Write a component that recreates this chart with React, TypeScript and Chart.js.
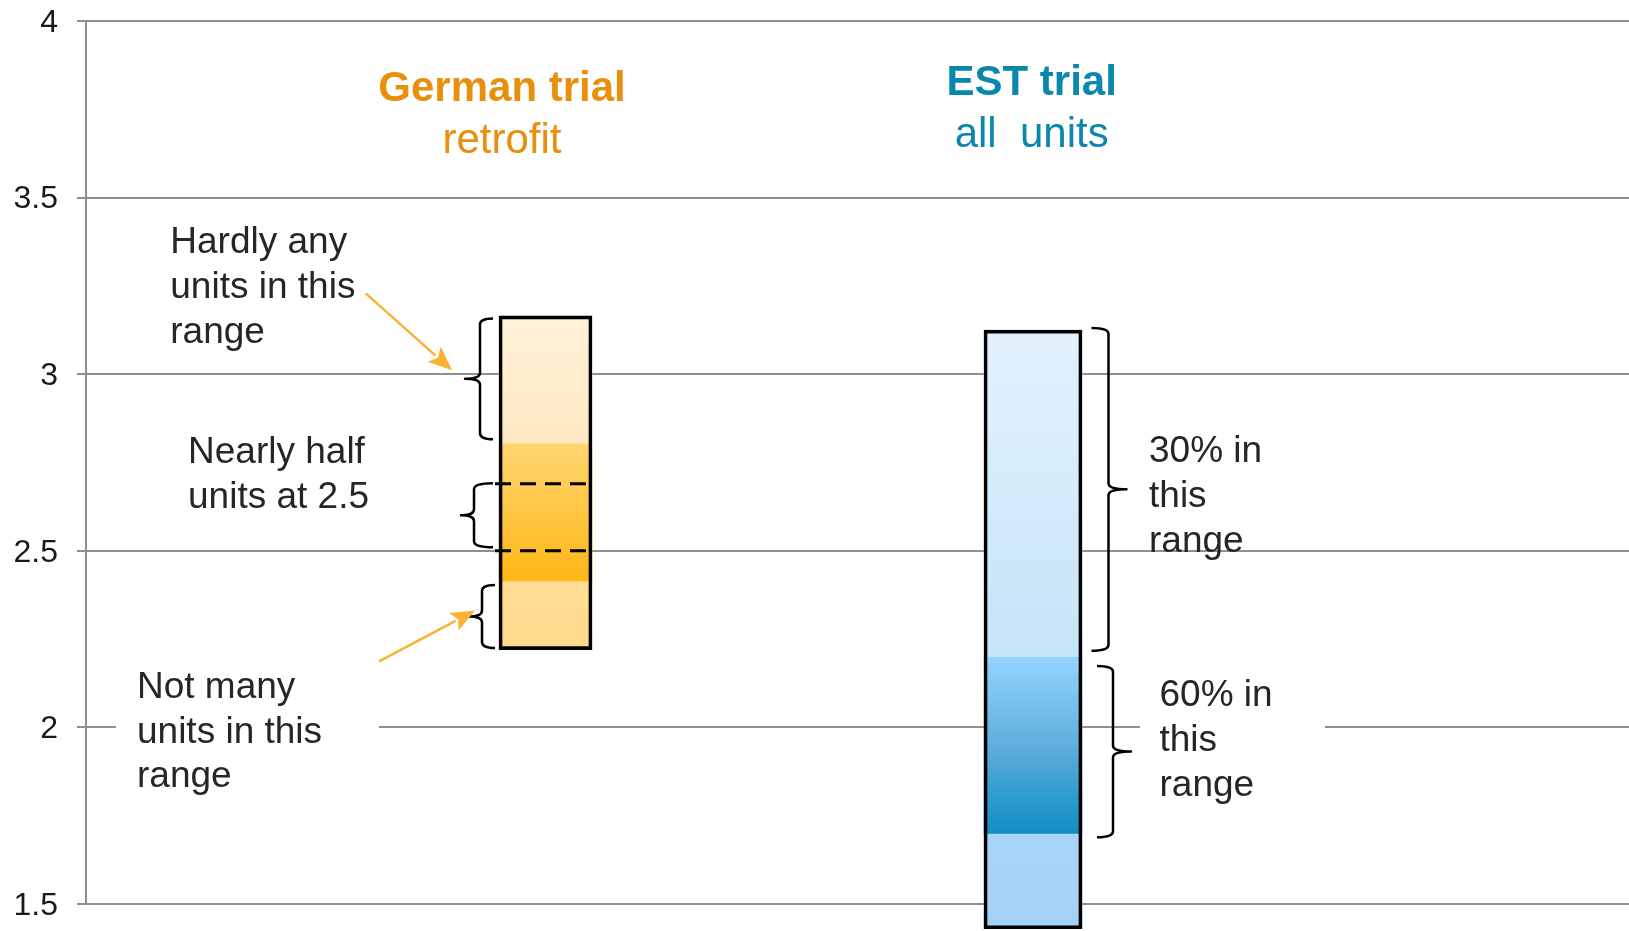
import React, { useEffect, useRef } from 'react';
import { Chart, registerables } from 'chart.js';

Chart.register(...registerables);

// ---------- data ----------
const trials = ['German trial', 'EST trial'];
const trialSubtitles = ['retrofit', 'all  units'];
const trialX = [0, 1];

// segment boundaries, top to bottom (y-axis units)
const germanBounds = [3.165, 2.805, 2.415, 2.22];
const estBounds = [3.125, 2.2, 1.7, 1.43];

const yTickValues = [1.5, 2, 2.5, 3, 3.5, 4];
const yTickLabels = ['1.5', '2', '2.5', '3', '3.5', '4'];

// brace ranges [top, bottom]
const germanBraces = [[3.158, 2.816], [2.691, 2.51], [2.403, 2.225]];
const estBraces = [[3.131, 2.217], [2.174, 1.689]];
// dashed marker lines on the German bar
const germanDashes = [2.69, 2.5];

// annotations
const annotationTexts = [
  ['Hardly any', 'units in this', 'range'],
  ['Nearly half', 'units at 2.5'],
  ['Not many', 'units in this', 'range'],
  ['30% in', 'this', 'range'],
  ['60% in', 'this', 'range'],
];
const annotationX = [-0.7697, -0.7333, -0.838, 1.238, 1.2595];
const annotationY = [3.371, 2.777, 2.112, 2.78, 2.089];

const arrowFrom = [[-0.3688, 3.229], [-0.3415, 2.187]];
const arrowTo = [[-0.1918, 3.011], [-0.1446, 2.331]];

const titleX = [-0.0892, 0.9973];
const titleY = [3.806, 3.823];
const subtitleY = [3.659, 3.676];

// ---------- styles ----------
const W = 1629;
const H = 931;
const FONT = "'Liberation Sans', Arial, Helvetica, sans-serif";
const TEXT_COLOR = '#262626';
const GRID_COLOR = '#8f8f8f';
const TITLE_COLORS = ['#E8900C', '#0A87AD'];
const ARROW_COLOR = '#F9B233';
const LINE_H = 44.7;

const germanFills = [
  ['#FFF3D9', '#FEE8C1'],
  ['#FFD670', '#FFB716'],
  ['#FEDD94', '#FED98B'],
];
const estFills = [
  ['#E3F2FD', '#C6E4F8'],
  ['#93D4FF', '#5FAEDD', '#0E8EC3'],
  ['#A8D5F7', '#A4D2F6'],
];
const barThickness = [93, 98];
// brace geometry relative to bar centre: [arm, vertical, tip]
const germanBraceGeom = [[-52.5, -65.5, -80.5], [-52.5, -71.5, -84.5], [-50.5, -63.5, -76.5]];
const estBraceGeom = [[58.5, 75.5, 93.5], [64, 80, 98]];
// white boxes behind some annotations [left, right] offsets in px, or null
const annotationBoxes: (number[] | null)[] = [null, null, [-21, 242], null, [-19.5, 165.5]];

function gradientFill(c: any, stops: string[]) {
  const chart = c.chart;
  const raw = c.raw;
  if (!raw || !chart.chartArea || !chart.scales.y) return stops[0];
  const ys = chart.scales.y;
  const top = ys.getPixelForValue(raw.y[1]);
  const bot = ys.getPixelForValue(raw.y[0]);
  if (!isFinite(top) || !isFinite(bot) || top === bot) return stops[0];
  const g = chart.ctx.createLinearGradient(0, top, 0, bot);
  stops.forEach((s, i) => g.addColorStop(i / (stops.length - 1), s));
  return g;
}

function buildDatasets(name: string, x: number, bounds: number[], thickness: number, fills: string[][]) {
  const sets: any[] = [];
  for (let i = 0; i < bounds.length - 1; i++) {
    const stops = fills[i];
    sets.push({
      label: `${name} ${i}`,
      data: [{ x, y: [bounds[i + 1], bounds[i]] }],
      backgroundColor: (c: any) => gradientFill(c, stops),
      borderWidth: 0,
      borderSkipped: false,
      barThickness: thickness,
      maxBarThickness: thickness,
      grouped: false,
      clip: false,
      order: 2,
    });
  }
  sets.push({
    label: `${name} outline`,
    data: [{ x, y: [bounds[bounds.length - 1], bounds[0]] }],
    backgroundColor: 'rgba(0,0,0,0)',
    borderColor: '#000',
    borderWidth: 3,
    borderSkipped: false,
    barThickness: thickness,
    maxBarThickness: thickness,
    grouped: false,
    clip: false,
    order: 1,
  });
  return sets;
}

function drawBrace(ctx: CanvasRenderingContext2D, xArm: number, xV: number, xTip: number, yTop: number, yBot: number) {
  const yMid = (yTop + yBot) / 2;
  const r = Math.min(6, (yBot - yTop) / 5);
  ctx.beginPath();
  ctx.moveTo(xArm, yTop);
  ctx.quadraticCurveTo(xV, yTop, xV, yTop + r);
  ctx.lineTo(xV, yMid - r);
  ctx.quadraticCurveTo(xV, yMid, xTip, yMid);
  ctx.quadraticCurveTo(xV, yMid, xV, yMid + r);
  ctx.lineTo(xV, yBot - r);
  ctx.quadraticCurveTo(xV, yBot, xArm, yBot);
  ctx.stroke();
}

function drawArrow(ctx: CanvasRenderingContext2D, x0: number, y0: number, x1: number, y1: number) {
  const ang = Math.atan2(y1 - y0, x1 - x0);
  const L = 24;
  const hw = 10;
  const bx = x1 - L * Math.cos(ang);
  const by = y1 - L * Math.sin(ang);
  ctx.beginPath();
  ctx.moveTo(x0, y0);
  ctx.lineTo(bx + 2 * Math.cos(ang), by + 2 * Math.sin(ang));
  ctx.stroke();
  ctx.beginPath();
  ctx.moveTo(x1, y1);
  ctx.lineTo(bx + hw * Math.sin(ang), by - hw * Math.cos(ang));
  ctx.lineTo(bx + 5 * Math.cos(ang), by + 5 * Math.sin(ang));
  ctx.lineTo(bx - hw * Math.sin(ang), by + hw * Math.cos(ang));
  ctx.closePath();
  ctx.fill();
}

const annotationPlugin = {
  id: 'annotations',
  beforeDatasetsDraw(chart: any) {
    const { ctx, scales } = chart;
    const xs = scales.x;
    const ys = scales.y;
    ctx.save();
    ctx.fillStyle = '#ffffff';
    annotationTexts.forEach((lines, i) => {
      const box = annotationBoxes[i];
      if (!box) return;
      const px = xs.getPixelForValue(annotationX[i]);
      const py = ys.getPixelForValue(annotationY[i]);
      ctx.fillRect(px + box[0], py - 26, box[1] - box[0], (lines.length - 1) * LINE_H + 52);
    });
    ctx.restore();
  },
  afterDatasetsDraw(chart: any) {
    const { ctx, scales } = chart;
    const xs = scales.x;
    const ys = scales.y;
    ctx.save();

    // dashed lines on the German bar
    const gx = xs.getPixelForValue(trialX[0]);
    ctx.strokeStyle = '#000';
    ctx.lineWidth = 3;
    ctx.setLineDash([16, 9]);
    germanDashes.forEach((v) => {
      const py = ys.getPixelForValue(v);
      ctx.beginPath();
      ctx.moveTo(gx - 50.5, py);
      ctx.lineTo(gx + 48.5, py);
      ctx.stroke();
    });
    ctx.setLineDash([]);

    // braces
    ctx.lineWidth = 2.5;
    ctx.lineJoin = 'round';
    germanBraces.forEach((b, i) => {
      const g = germanBraceGeom[i];
      drawBrace(ctx, gx + g[0], gx + g[1], gx + g[2], ys.getPixelForValue(b[0]), ys.getPixelForValue(b[1]));
    });
    const ex = xs.getPixelForValue(trialX[1]);
    estBraces.forEach((b, i) => {
      const g = estBraceGeom[i];
      drawBrace(ctx, ex + g[0], ex + g[1], ex + g[2], ys.getPixelForValue(b[0]), ys.getPixelForValue(b[1]));
    });

    // arrows
    ctx.strokeStyle = ARROW_COLOR;
    ctx.fillStyle = ARROW_COLOR;
    ctx.lineWidth = 2.5;
    arrowFrom.forEach((f, i) => {
      const t = arrowTo[i];
      drawArrow(ctx, xs.getPixelForValue(f[0]), ys.getPixelForValue(f[1]), xs.getPixelForValue(t[0]), ys.getPixelForValue(t[1]));
    });

    // annotation texts
    ctx.fillStyle = TEXT_COLOR;
    ctx.font = `37px ${FONT}`;
    ctx.textAlign = 'left';
    ctx.textBaseline = 'middle';
    annotationTexts.forEach((lines, i) => {
      const px = xs.getPixelForValue(annotationX[i]);
      const py = ys.getPixelForValue(annotationY[i]);
      lines.forEach((ln, j) => ctx.fillText(ln, px, py + j * LINE_H));
    });

    // titles
    ctx.textAlign = 'center';
    trials.forEach((t, i) => {
      const px = xs.getPixelForValue(titleX[i]);
      ctx.fillStyle = TITLE_COLORS[i];
      ctx.font = `bold 42px ${FONT}`;
      ctx.fillText(t, px, ys.getPixelForValue(titleY[i]));
      ctx.font = `42px ${FONT}`;
      ctx.fillText(trialSubtitles[i], px, ys.getPixelForValue(subtitleY[i]));
    });

    ctx.restore();
  },
};

export default function App() {
  const canvasRef = useRef<HTMLCanvasElement | null>(null);

  useEffect(() => {
    const canvas = canvasRef.current;
    if (!canvas) return;
    const datasets = [
      ...buildDatasets(trials[0], trialX[0], germanBounds, barThickness[0], germanFills),
      ...buildDatasets(trials[1], trialX[1], estBounds, barThickness[1], estFills),
    ];
    const chart = new Chart(canvas, {
      type: 'bar',
      data: { datasets },
      options: {
        animation: false,
        responsive: false,
        events: [],
        layout: { padding: { top: 21, bottom: 27, left: 0, right: 0 } },
        plugins: {
          legend: { display: false },
          tooltip: { enabled: false },
          title: { display: false },
        },
        scales: {
          x: {
            type: 'linear',
            display: false,
            min: -0.9426,
            max: 2.2226,
            offset: false,
            grid: { display: false },
          },
          y: {
            type: 'linear',
            min: 1.5,
            max: 4,
            afterFit: (scale: any) => {
              scale.width = 86;
              scale.paddingTop = 0;
              scale.paddingBottom = 0;
            },
            afterBuildTicks: (scale: any) => {
              scale.ticks = yTickValues.map((v) => ({ value: v }));
            },
            ticks: {
              padding: 19,
              labelOffset: 2,
              color: '#1a1a1a',
              font: { family: FONT, size: 32 },
              callback: (value: any) => {
                const idx = yTickValues.indexOf(Number(value));
                return idx >= 0 ? yTickLabels[idx] : '';
              },
            },
            grid: {
              color: GRID_COLOR,
              lineWidth: 2,
              tickLength: 9,
              tickColor: GRID_COLOR,
              drawTicks: true,
            },
            border: { display: true, color: GRID_COLOR, width: 2 },
          },
        },
      },
      plugins: [annotationPlugin],
    } as any);
    return () => chart.destroy();
  }, []);

  return (
    <div style={{ position: 'fixed', left: 0, top: 0, width: W, height: H, background: '#fff' }}>
      <canvas ref={canvasRef} width={W} height={H} style={{ display: 'block', width: W, height: H }} />
    </div>
  );
}
